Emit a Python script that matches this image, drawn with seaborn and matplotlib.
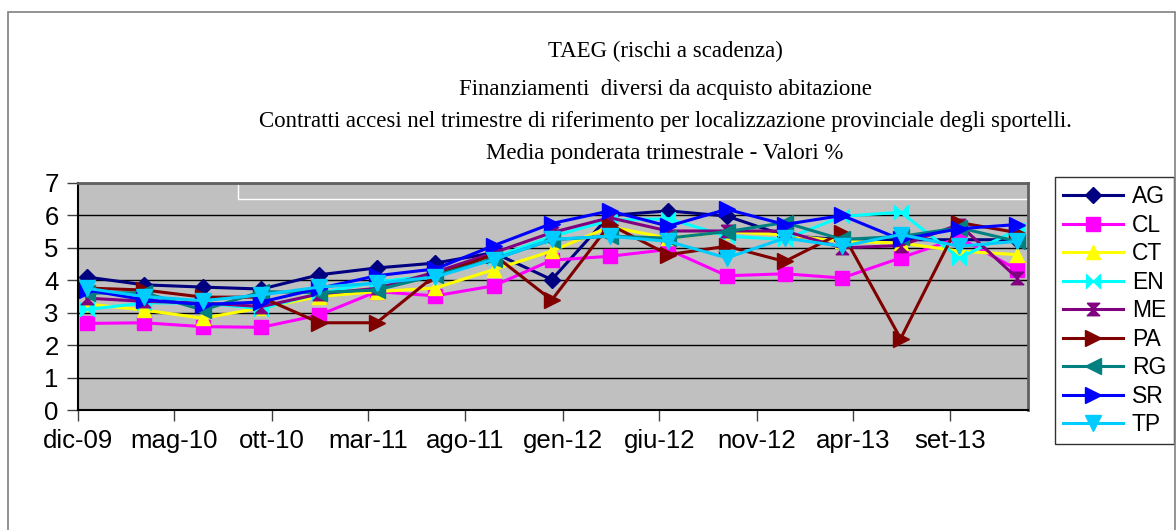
import numpy as np
import pandas as pd
import seaborn as sns
import matplotlib.pyplot as plt
from matplotlib.path import Path
from matplotlib.patches import Rectangle

# Dati trimestrali (valori %)
quarters = ['2009-12', '2010-03', '2010-06', '2010-09', '2010-12', '2011-03', '2011-06', '2011-09',
            '2011-12', '2012-03', '2012-06', '2012-09', '2012-12', '2013-03', '2013-06', '2013-09', '2013-12']
AG = [4.10, 3.86, 3.79, 3.73, 4.17, 4.38, 4.53, 4.85, 4.02, 6.00, 6.14, 5.98, 5.38, 5.25, 5.25, 5.25, 5.25]
CL = [2.67, 2.69, 2.57, 2.55, 2.93, 3.65, 3.52, 3.83, 4.62, 4.74, 4.95, 4.14, 4.20, 4.07, 4.69, 5.31, 4.33]
CT = [3.27, 3.08, 2.83, 3.15, 3.50, 3.65, 3.76, 4.33, 4.90, 5.65, 5.30, 5.50, 5.40, 5.20, 5.15, 4.90, 4.79]
EN = [3.10, 3.30, 3.30, 3.12, 3.60, 3.95, 4.15, 4.70, 5.35, 5.85, 5.90, 5.36, 5.26, 5.97, 6.10, 4.69, 5.55]
ME = [3.45, 3.35, 3.30, 3.19, 3.58, 3.75, 4.25, 4.85, 5.47, 5.93, 5.52, 5.52, 5.52, 5.00, 5.07, 5.72, 4.07]
PA = [3.76, 3.70, 3.48, 3.48, 2.69, 2.69, 4.15, 4.79, 3.39, 5.72, 4.79, 5.05, 4.58, 5.47, 2.20, 5.78, 5.47]
RG = [3.60, 3.62, 3.08, 3.65, 3.62, 3.70, 4.15, 4.65, 5.25, 5.36, 5.30, 5.50, 5.78, 5.26, 5.35, 5.62, 5.20]
SR = [3.70, 3.40, 3.25, 3.33, 3.75, 4.14, 4.35, 5.07, 5.75, 6.14, 5.67, 6.19, 5.72, 6.00, 5.26, 5.59, 5.72]
TP = [3.75, 3.50, 3.37, 3.55, 3.79, 3.91, 4.10, 4.64, 5.26, 5.36, 5.20, 4.69, 5.30, 5.05, 5.41, 5.05, 5.20]

provinces = ['AG', 'CL', 'CT', 'EN', 'ME', 'PA', 'RG', 'SR', 'TP']
series = [AG, CL, CT, EN, ME, PA, RG, SR, TP]
colors = ['#000080', '#FF00FF', '#FFFF00', '#00FFFF', '#800080', '#800000', '#008080', '#0000FF', '#00CCFF']

tick_months = ['2009-12', '2010-05', '2010-10', '2011-03', '2011-08', '2012-01', '2012-06', '2012-11', '2013-04', '2013-09']
tick_labels = ['dic-09', 'mag-10', 'ott-10', 'mar-11', 'ago-11', 'gen-12', 'giu-12', 'nov-12', 'apr-13', 'set-13']

title_lines = ['TAEG (rischi a scadenza)',
               'Finanziamenti  diversi da acquisto abitazione',
               'Contratti accesi nel trimestre di riferimento per localizzazione provinciale degli sportelli.',
               'Media ponderata trimestrale - Valori %']

# tabella lunga per seaborn
dates = pd.to_datetime(quarters) + pd.Timedelta(days=14)
df = pd.DataFrame({'data': np.tile(dates, len(provinces)),
                   'prov': np.repeat(provinces, len(quarters)),
                   'valore': np.concatenate(series)})

# marker "a farfalla" stile Excel
bowtie = Path([(-1, 1), (-1, -1), (1, 1), (1, -1), (-1, 1)])
hourglass = Path([(-1, 1), (1, 1), (-1, -1), (1, -1), (-1, 1)])
markers = {'AG': 'D', 'CL': 's', 'CT': '^', 'EN': bowtie, 'ME': hourglass,
           'PA': '>', 'RG': '<', 'SR': '>', 'TP': 'v'}
sizes = {'AG': 8, 'CL': 10, 'CT': 10, 'EN': 10, 'ME': 9, 'PA': 11, 'RG': 11, 'SR': 11, 'TP': 11}

plt.rcParams['font.family'] = ['Liberation Sans', 'DejaVu Sans']

fig = plt.figure(figsize=(11.76, 5.30), dpi=100)
ax = fig.add_axes([78 / 1176, 120 / 530, 950 / 1176, 227 / 530])
ax.set_facecolor('#C0C0C0')

sns.lineplot(data=df, x='data', y='valore', hue='prov', style='prov', hue_order=provinces,
             style_order=provinces, palette=colors, markers=markers, dashes=False,
             linewidth=2.2, legend=False, ax=ax)

for ln, p, c in zip(ax.lines, provinces, colors):
    ln.set_markeredgecolor(c)
    ln.set_markerfacecolor(c)
    ln.set_markersize(sizes[p])
    ln.set_markeredgewidth(1)

ax.set_ylim(0, 7)
ax.set_yticks(range(8))
ax.set_xlim(pd.Timestamp('2009-12-01'), pd.Timestamp('2014-01-01'))
ax.set_xticks(pd.to_datetime(tick_months), labels=tick_labels)
ax.set_xlabel('')
ax.set_ylabel('')
ax.grid(axis='y', color='black', lw=1)
ax.set_axisbelow(True)
ax.tick_params(labelsize=18.5, length=8, width=1, color='#404040', pad=6)

for s in ['top', 'right']:
    ax.spines[s].set_color('#606060')
    ax.spines[s].set_linewidth(2)
ax.spines['left'].set_color('black')
ax.spines['bottom'].set_color('black')
ax.spines['left'].set_linewidth(1.5)
ax.spines['bottom'].set_linewidth(1.5)

# linea bianca residua nel riquadro
ax.plot([0.168, 0.168, 1.0], [1.0, 0.929, 0.929], transform=ax.transAxes, color='white', lw=1, zorder=1)

leg = ax.legend(ax.lines[:len(provinces)], provinces, loc='upper left',
                bbox_to_anchor=(1055 / 1176, 353 / 530), bbox_transform=fig.transFigure,
                fontsize=16.5, frameon=True, fancybox=False, edgecolor='black',
                handlelength=2.6, handletextpad=0.4, labelspacing=0.24, borderpad=0.35,
                borderaxespad=0)
leg.get_frame().set_linewidth(1)

ys = [51, 90, 122, 153]
for t, y in zip(title_lines, ys):
    fig.text(665 / 1176, 1 - y / 530, t, ha='center', va='center', fontsize=16.5,
             family=['Liberation Serif', 'DejaVu Serif'])

fig.patches.append(Rectangle((8 / 1176, -0.05), 1167 / 1176, 1.05 - 12 / 530, transform=fig.transFigure,
                             fill=False, edgecolor='#808080', lw=1.2))

fig.savefig('out.png', dpi=100)
